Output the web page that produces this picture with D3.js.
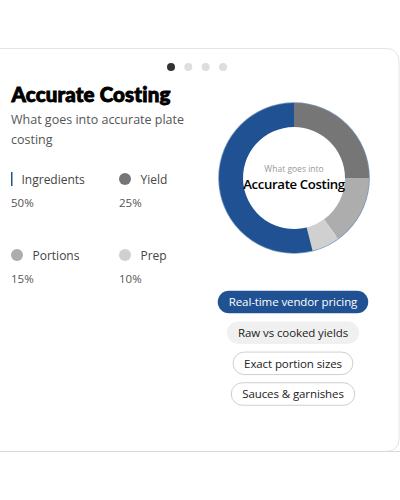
<!DOCTYPE html>
<html><head><meta charset="utf-8">
<script src="https://cdn.jsdelivr.net/npm/d3@7"></script>
<style>
html,body{margin:0;padding:0;background:#fff;overflow:hidden;}
svg{display:block;font-family:"Open Sans","Noto Sans",sans-serif;}
</style></head><body>
<svg id="c" width="400" height="500"></svg>
<script>
const categories = ["Ingredients", "Yield", "Portions", "Prep"];
const values = [50, 25, 15, 10];
const colors = ["#1f5193", "#767676", "#adadad", "#d0d0d0"];
const pills = ["Real-time vendor pricing", "Raw vs cooked yields", "Exact portion sizes", "Sauces & garnishes"];
const title = "Accurate Costing";
const subtitle = ["What goes into accurate plate", "costing"];
const centerSmall = "What goes into";

const svg = d3.select("#c");

// card
svg.append("rect").attr("x", -12).attr("y", 48.5).attr("width", 411).attr("height", 403)
  .attr("rx", 12).attr("fill", "#fff").attr("stroke", "#e3e3e3").attr("stroke-width", 1);
svg.append("line").attr("x1", 0).attr("x2", 400).attr("y1", 451.5).attr("y2", 451.5)
  .attr("stroke", "#d9d9d9");

// pager dots
const dotX = d3.scalePoint().domain(d3.range(4)).range([171, 223]);
svg.selectAll("circle.dot").data(d3.range(4)).join("circle").attr("class", "dot")
  .attr("cx", d => dotX(d)).attr("cy", 67).attr("r", 4)
  .attr("fill", d => d === 0 ? "#333" : "#dedede");

// title
svg.append("text").attr("x", 11.5).attr("y", 101.5).text(title)
  .attr("font-family", "Lato, sans-serif").attr("font-weight", 900).attr("font-size", 20.5)
  .attr("fill", "#000").attr("stroke", "#000").attr("stroke-width", 0.9).attr("letter-spacing", 0.15);
svg.selectAll("text.sub").data(subtitle).join("text").attr("class", "sub")
  .attr("x", 11).attr("y", (d, i) => 124 + i * 20).text(d => d)
  .attr("font-size", 12.5).attr("fill", "#555");

// legend
const lx = d3.scaleOrdinal().domain(categories).range([11, 119, 11, 119]);
const ly = d3.scaleOrdinal().domain(categories).range([179, 179, 255, 255]);
const lg = svg.selectAll("g.leg").data(categories).join("g").attr("class", "leg")
  .attr("transform", d => `translate(${lx(d)},${ly(d)})`);
lg.each(function(d, i) {
  const g = d3.select(this);
  if (i === 0) {
    g.append("rect").attr("x", 0).attr("y", -7).attr("width", 1.5).attr("height", 14).attr("fill", colors[i]);
    g.append("text").attr("x", 10.5).attr("y", 4.5).text(d).attr("font-size", 12).attr("fill", "#444");
  } else {
    g.append("circle").attr("cx", 6).attr("cy", 0).attr("r", 6).attr("fill", colors[i]);
    g.append("text").attr("x", 21.5).attr("y", 4.5).text(d).attr("font-size", 12).attr("fill", "#444");
  }
  g.append("text").attr("x", 0).attr("y", 27.5).text(values[i] + "%").attr("font-size", 11.5).attr("fill", "#555");
});

// donut
const cx = 294, cy = 178, R = 75, r = 51;
const pie = d3.pie().sort(null).value(d => d).startAngle(-Math.PI).endAngle(Math.PI);
const arcs = pie(values);
const arc = d3.arc().innerRadius(r).outerRadius(R);
const dg = svg.append("g").attr("transform", `translate(${cx},${cy})`);
dg.append("path").attr("d", d3.arc().innerRadius(R - 3).outerRadius(R + 0.8).startAngle(0).endAngle(2 * Math.PI)())
  .attr("fill", colors[0]).attr("opacity", 0.6);
// order: others first, highlighted ingredient slice on top (slight overshoot)
dg.selectAll("path.slice").data(arcs.slice(1)).join("path").attr("class", "slice")
  .attr("d", arc).attr("fill", (d, i) => colors[i + 1]);
const a0 = arcs[0];
dg.append("path").attr("d", arc({startAngle: a0.startAngle - 0.25, endAngle: a0.endAngle}))
  .attr("fill", colors[0]);
dg.append("text").attr("x", 0).attr("y", -6).attr("text-anchor", "middle").text(centerSmall)
  .attr("font-size", 8.5).attr("fill", "#999");
dg.append("text").attr("x", 0).attr("y", 10.5).attr("text-anchor", "middle").text(title)
  .attr("font-size", 13.2).attr("font-weight", 600).attr("fill", "#000").attr("letter-spacing", -0.35);

// pills
const py = d3.scalePoint().domain(pills).range([302, 394]);
const pillStyle = [
  {fill: colors[0], stroke: "none", text: "#fff"},
  {fill: "#f0f0f0", stroke: "none", text: "#222"},
  {fill: "#fff", stroke: "#cfcfcf", text: "#222"},
  {fill: "#fff", stroke: "#cfcfcf", text: "#222"}
];
const pg = svg.selectAll("g.pill").data(pills).join("g").attr("class", "pill")
  .attr("transform", d => `translate(${293},${py(d)})`);
pg.each(function(d, i) {
  const g = d3.select(this);
  const t = g.append("text").attr("text-anchor", "middle").attr("y", 4.2).text(d)
    .attr("font-size", 11.5).attr("fill", pillStyle[i].text).attr("letter-spacing", -0.1);
  const w = t.node().getComputedTextLength() + 22;
  const h = 22.5;
  g.insert("rect", "text").attr("x", -w / 2).attr("y", -h / 2).attr("width", w).attr("height", h)
    .attr("rx", h / 2).attr("fill", pillStyle[i].fill).attr("stroke", pillStyle[i].stroke);
});
</script>
</body></html>
